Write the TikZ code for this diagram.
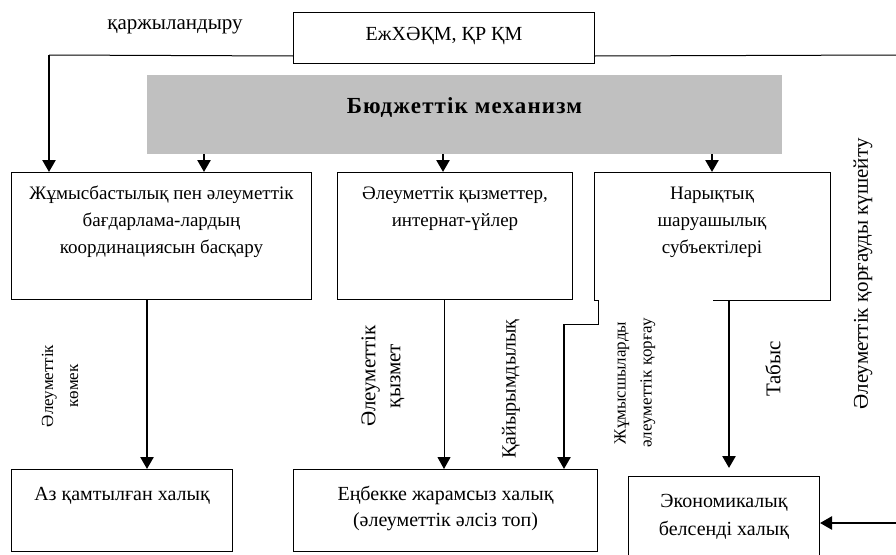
\documentclass[tikz,border=0pt]{standalone}
\usepackage{fontspec}
\setmainfont{Liberation Serif}
\usetikzlibrary{arrows.meta,calc,positioning}
\definecolor{budgetgrey}{RGB}{192,192,192}
% box text: height, width, top gap, text
\newcommand\boxtext[4]{\parbox[c][#1][t]{#2}{\centering\vspace*{#3}\strut #4}}
\tikzset{
    cell/.style={draw, line width=1pt, inner sep=0pt, anchor=north west,
        font=\fontsize{19}{27}\selectfont},
    frame/.style={line width=1pt},
    budget/.style={fill=budgetgrey, inner sep=0pt, minimum width=635pt,
        minimum height=79pt, text height=15.5pt, text depth=18.5pt,
        font=\fontsize{23}{26}\selectfont\bfseries\addfontfeature{LetterSpace=5}},
    thinline/.style={line width=1pt},
    thickline/.style={line width=2.5pt},
    arr/.style={-{Triangle[length=12pt,width=13pt]}},
    vlbl/.style={rotate=90, align=center, inner sep=0pt},
    hlbl/.style={inner sep=0pt, font=\fontsize{21}{27}\selectfont}
}
\begin{document}
\begin{tikzpicture}[x=1pt,y=-1pt]
    \clip (0,0) rectangle (896,554);
    % top
    \node[cell, font=\fontsize{20}{27}\selectfont] (ej) at (293,12) {\boxtext{51pt}{301pt}{8.6pt}{ЕжХӘҚМ, ҚР ҚМ}};
    \node[hlbl] (fin) at (175,27) {қаржыландыру};
    \node[budget] (budget) at (464.5,114.5) {Бюджеттік механизм};
    % first row
    \node[cell] (mgmt) at (11,172) {\boxtext{127pt}{300pt}{8pt}{Жұмысбастылық пен әлеуметтік\\бағдарлама-лардың\\координациясын басқару}};
    \node[cell] (serv) at (337,172) {\boxtext{127pt}{235pt}{8pt}{Әлеуметтік қызметтер,\\интернат-үйлер}};
    \node[cell, draw=none] (market) at (594,172) {\boxtext{127pt}{235pt}{8pt}{Нарықтық\\шаруашылық\\субъектілері}};
    % second row
    \node[cell, font=\fontsize{20}{26}\selectfont] (poor) at (11,469) {\boxtext{82pt}{221pt}{13pt}{Аз қамтылған халық}};
    \node[cell, font=\fontsize{20}{26}\selectfont] (unfit) at (293,469) {\boxtext{82pt}{304pt}{13pt}{Еңбекке жарамсыз халық\\(әлеуметтік әлсіз топ)}};
    \node[cell, font=\fontsize{20}{28}\selectfont] (active) at (628,476) {\boxtext{90pt}{191pt}{11pt}{Экономикалық\\белсенді халық}};

    \coordinate (stepa) at ($(market.south west)+(4,0)$);
    \coordinate (stepc) at (564,324);
    \coordinate (fundl) at (49,55);
    \coordinate (edgetop) at (896,55);
    \coordinate (edgebot) at (896,523);
    \draw[frame] (stepa) -- (market.south west) -- (market.north west)
        -- (market.north east) -- (market.south east) -- ++(-117,0);

    % connectors
    \draw[thinline] ([yshift=8pt]ej.south west) -- (fundl);
    \draw[thickline,arr] (fundl) -- (fundl |- mgmt.north);
    \draw[thinline] ([yshift=8pt]ej.south east) -- (edgetop);
    \draw[thickline,arr] (budget.south -| 204,0) -- (mgmt.north -| 204,0);
    \draw[thickline,arr] (budget.south -| 443,0) -- (serv.north -| 443,0);
    \draw[thickline,arr] (budget.south -| 712,0) -- (market.north -| 712,0);
    \draw[thickline,arr] (mgmt.south -| 147,0) -- (poor.north -| 147,0);
    \draw[thinline,arr] (serv.south -| 444,0) -- (unfit.north -| 444,0);
    \draw[thinline] (stepa) |- (stepc);
    \draw[thickline,arr] (stepc) -- (stepc |- unfit.north);
    \draw[thickline,arr,shorten >=8pt] (market.south -| 729,0) -- (active.north -| 729,0);
    \draw[thickline,arr] (edgebot) -- (active.east |- edgebot);

    % labels
    \node[vlbl, font=\fontsize{17}{25}\selectfont] (helplbl) at (60,386) {Әлеуметтік\\көмек};
    \node[vlbl, font=\fontsize{21}{25}\selectfont] (servlbl) at (383,376) {Әлеуметтік\\қызмет};
    \node[vlbl, font=\fontsize{20}{25}\selectfont] (charlbl) at (511,389) {Қайырымдылық};
    \node[vlbl, font=\fontsize{17}{26}\selectfont] (protlbl) at (635,383) {Жұмысшыларды\\әлеуметтік қорғау};
    \node[vlbl, font=\fontsize{21}{25}\selectfont] (inclbl) at (773,369) {Табыс};
    \node[vlbl, font=\fontsize{21}{25}\selectfont] (strlbl) at (863,274) {Әлеуметтік қорғауды күшейту};
\end{tikzpicture}
\end{document}
